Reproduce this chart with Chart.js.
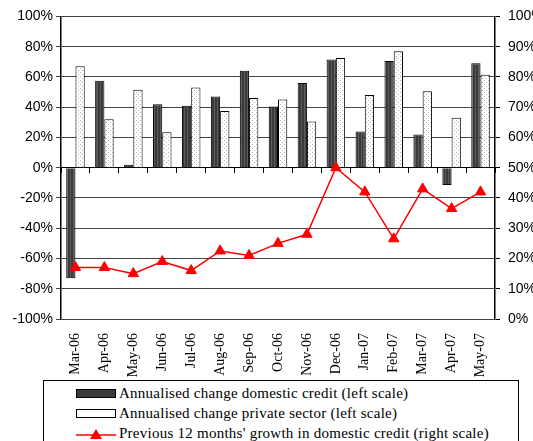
<!DOCTYPE html>
<html>
<head>
<meta charset="utf-8">
<script src="https://cdn.jsdelivr.net/npm/chart.js@4/dist/chart.umd.min.js"></script>
<style>
  html, body { margin: 0; padding: 0; background: #fff; overflow: hidden; width: 533px; height: 441px; }
  #wrap { position: absolute; left: 0; top: 0; width: 545px; height: 378px; }
  #legend {
    position: absolute; left: 43px; top: 380px; width: 476px; height: 80px;
    border: 1px solid #000; box-sizing: border-box;
    font: 15px "Liberation Serif", "Times New Roman", serif; letter-spacing: 0.25px; color: #000;
  }
  #legend .row { position: absolute; left: 32px; height: 20px; line-height: 20px; white-space: nowrap; }
  #legend svg { vertical-align: middle; margin-right: 3px; position: relative; top: -1px; }
</style>
</head>
<body>
<div id="wrap"><canvas id="c"></canvas></div>
<div id="legend"></div>
<script>
const months = ['Mar-06', 'Apr-06', 'May-06', 'Jun-06', 'Jul-06', 'Aug-06', 'Sep-06', 'Oct-06',
  'Nov-06', 'Dec-06', 'Jan-07', 'Feb-07', 'Mar-07', 'Apr-07', 'May-07']
const domesticCredit = [-73, 57.5, 2, 42, 41, 47, 64, 40.5, 56, 71.5, 24, 70.5, 22, -11.5, 69]
const privateSector = [67, 32, 51.5, 23.5, 53, 37.5, 46, 45, 30.5, 72.5, 48, 77, 50.5, 33, 61.5]
const growth12m = [17, 17, 15, 19, 16, 22.5, 21, 25, 28, 50, 42, 26.5, 43, 36.5, 42]
const seriesNames = [
  'Annualised change domestic credit (left scale)',
  'Annualised change private sector (left scale)',
  "Previous 12 months' growth in domestic credit (right scale)",
]

function makePattern(w, h, bg, dots) {
  const cv = document.createElement('canvas')
  cv.width = w; cv.height = h
  const ctx = cv.getContext('2d')
  ctx.fillStyle = bg
  ctx.fillRect(0, 0, w, h)
  for (const [x, y, col] of dots) { ctx.fillStyle = col; ctx.fillRect(x, y, 1, 1) }
  return ctx.createPattern(cv, 'repeat')
}
const darkFill = makePattern(3, 1, '#3a3a3a', [[1, 0, '#5c5c5c']])
const lightFill = makePattern(4, 4, '#ffffff', [[0, 0, '#b8b8b8'], [2, 2, '#b8b8b8']])

const fitWidth = w => scale => { scale.width = w }
const fitHeight = h => scale => { scale.height = h }
const pct = v => v + '%'
const tickFont = { family: '"Liberation Sans", Arial, sans-serif', size: 14 }

new Chart(document.getElementById('c'), {
  type: 'bar',
  data: {
    labels: months,
    datasets: [
      {
        label: seriesNames[0], data: domesticCredit, yAxisID: 'y', order: 2,
        backgroundColor: darkFill, borderColor: '#000', borderWidth: 1,
        categoryPercentage: 0.64, barPercentage: 1,
      },
      {
        label: seriesNames[1], data: privateSector, yAxisID: 'y', order: 2,
        backgroundColor: lightFill, borderColor: '#000', borderWidth: 1,
        categoryPercentage: 0.64, barPercentage: 1,
      },
      {
        type: 'line', label: seriesNames[2], data: growth12m, yAxisID: 'y1', order: 0,
        borderColor: '#ff0000', borderWidth: 1.5, backgroundColor: '#ff0000',
        pointStyle: 'triangle', pointRadius: 6, pointBorderWidth: 1, tension: 0,
      },
    ],
  },
  options: {
    responsive: true,
    maintainAspectRatio: false,
    animation: false,
    layout: { padding: { top: 16, left: 0, right: 0, bottom: 0 } },
    plugins: { legend: { display: false }, tooltip: { enabled: false } },
    scales: {
      x: {
        position: 'bottom',
        grid: { display: false },
        border: { display: false },
        afterFit: fitHeight(59),
        ticks: {
          maxRotation: 90, minRotation: 90, autoSkip: false, color: '#000', padding: 6,
          font: { family: '"Liberation Serif", "Times New Roman", serif', size: 14 },
        },
      },
      x0: {
        type: 'category',
        position: { y: 0 },
        grid: { drawOnChartArea: false, drawTicks: true, tickLength: 5, color: '#000', offset: true },
        border: { display: true, color: '#000', width: 1 },
        ticks: { display: false },
      },
      y: {
        position: 'left', min: -100, max: 100,
        afterFit: fitWidth(61),
        grid: { color: '#444', tickLength: 5, lineWidth: 1 },
        border: { color: '#000', width: 1.5 },
        ticks: { stepSize: 20, callback: pct, color: '#000', font: tickFont, padding: 3 },
      },
      y1: {
        position: 'right', min: 0, max: 100,
        afterFit: fitWidth(50),
        grid: { drawOnChartArea: false, tickLength: 5, color: '#000' },
        border: { color: '#000', width: 1.5 },
        ticks: { stepSize: 10, callback: pct, color: '#000', font: tickFont, padding: 8 },
      },
    },
  },
})

const swatches = [
  '<svg width="40" height="9"><rect x="0.5" y="0.5" width="39" height="8" fill="#3a3a3a" stroke="#000"/></svg>',
  '<svg width="40" height="9"><rect x="0.5" y="0.5" width="39" height="8" fill="#fff" stroke="#000"/></svg>',
  '<svg width="40" height="12"><line x1="0" y1="7" x2="40" y2="7" stroke="#f00" stroke-width="1.5"/><polygon points="20,1 26,11 14,11" fill="#f00"/></svg>',
]
document.getElementById('legend').innerHTML = seriesNames
  .map((name, i) => `<div class="row" style="top:${2 + i * 20}px">${swatches[i]}${name}</div>`)
  .join('')
</script>
</body>
</html>
